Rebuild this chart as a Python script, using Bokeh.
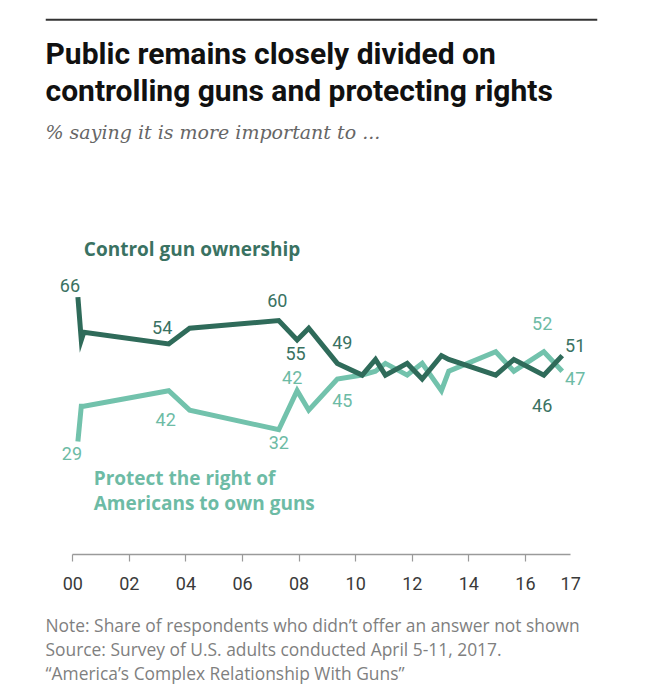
from bokeh.plotting import figure
from bokeh.models import ColumnDataSource, Range1d, FixedTicker, Label, Span, Title
from bokeh.core.properties import value
from bokeh.embed import file_html
from bokeh.resources import INLINE

# survey dates, as years after 2000
years = [0.18, 0.30, 0.39, 3.39, 4.13, 7.28, 7.93, 8.34, 9.35, 10.23,
         10.70, 11.05, 11.82, 12.35, 13.03, 13.29, 14.95, 15.59, 16.65, 17.30]
# % saying it is more important to ...
control = [66, 55, 57, 54, 58, 60, 55, 58, 49, 46,
           50, 46, 49, 45, 51, 50, 46, 50, 46, 51]
protect = [29, 38, 38, 42, 37, 32, 42, 37, 45, 46,
           47, 49, 46, 49, 42, 47, 52, 47, 52, 47]

tick_years = [0, 2, 4, 6, 8, 10, 12, 14, 16]
tick_labels = ["00", "02", "04", "06", "08", "10", "12", "14", "16"]
end_label = "17"
axis_end = 17.6

# which points carry a value label
control_marked = [0, 3, 5, 6, 8, 19, 18]
protect_marked = [0, 3, 5, 6, 8, 18, 19]

title_lines = ["Public remains closely divided on",
               "controlling guns and protecting rights"]
subtitle = "% saying it is more important to ..."
control_name = "Control gun ownership"
protect_name = ["Protect the right of", "Americans to own guns"]
notes = ["Note: Share of respondents who didn\u2019t offer an answer not shown",
         "Source: Survey of U.S. adults conducted April 5-11, 2017.",
         "\u201cAmerica\u2019s Complex Relationship With Guns\u201d"]

DARK = "#2f6b5a"
DARK_TXT = "#3a7262"
LIGHT = "#72c2ac"
LIGHT_TXT = "#6dbba5"
NUM_FONT = "Roboto"
NAME_FONT = "Open Sans"

p = figure(width=654, height=686, output_backend="svg", toolbar_location=None,
           x_range=Range1d(-0.965, 18.547), y_range=Range1d(0, 138.97),
           y_axis_location=None,
           min_border_left=45, min_border_right=57,
           min_border_top=12, min_border_bottom=132)
p.grid.visible = False
p.outline_line_color = None
p.background_fill_color = "white"

# x axis, only as long as the data; minor ticks give the marks,
# major ticks (zero length) carry the labels, "17" at the axis end
ax = p.xaxis[0]
ax.ticker = FixedTicker(ticks=tick_years + [axis_end], minor_ticks=tick_years)
overrides = {t: l for t, l in zip(tick_years, tick_labels)}
overrides[axis_end] = end_label
ax.major_label_overrides = overrides
ax.bounds = (0, axis_end)
ax.axis_line_color = "#9a9a9a"
ax.axis_line_width = 1.5
ax.major_tick_in = 0
ax.major_tick_out = 0
ax.minor_tick_line_color = "#9a9a9a"
ax.minor_tick_line_width = 1.2
ax.minor_tick_in = 0
ax.minor_tick_out = 7
ax.major_label_text_font = NUM_FONT
ax.major_label_text_font_size = "18px"
ax.major_label_text_color = "#3a3a3a"
ax.major_label_standoff = 15

# the lines
src = ColumnDataSource(data=dict(x=years, control=control, protect=protect))
p.line("x", "protect", source=src, line_color=LIGHT, line_width=5,
       line_join="miter")
p.line("x", "control", source=src, line_color=DARK, line_width=5,
       line_join="miter")

# value labels, offsets in pixels from the point
c_dx = [-8, -6.5, -1.5, -1.6, 5, 13, -1.6]
c_dy = [-11.6, -16.7, -20, 14, -21, -10, 30]
p_dx = [-6, -3, 0, -5, 5, -1.6, 13]
p_dy = [12, 29, 12.5, -13.5, 21.5, -28, 7.6]

csrc = ColumnDataSource(data=dict(
    x=[years[i] for i in control_marked],
    y=[control[i] for i in control_marked],
    t=[str(control[i]) for i in control_marked],
    dx=c_dx, dy=c_dy))
psrc = ColumnDataSource(data=dict(
    x=[years[i] for i in protect_marked],
    y=[protect[i] for i in protect_marked],
    t=[str(protect[i]) for i in protect_marked],
    dx=p_dx, dy=p_dy))
p.text("x", "y", text="t", x_offset="dx", y_offset="dy", source=csrc,
       text_align="center", text_baseline="middle", text_font=value(NUM_FONT),
       text_font_size="18px", text_color=DARK_TXT)
p.text("x", "y", text="t", x_offset="dx", y_offset="dy", source=psrc,
       text_align="center", text_baseline="middle", text_font=value(NUM_FONT),
       text_font_size="18px", text_color=LIGHT_TXT)

# series names
p.text(x=[0.39], y=[78.3], text=[control_name], text_font=value(NAME_FONT),
       text_font_style="bold", text_font_size="19px", text_color=DARK_TXT,
       text_baseline="middle")
p.text(x=[0.74, 0.74], y=[19.6, 13.2], text=protect_name,
       text_font=value(NAME_FONT), text_font_style="bold",
       text_font_size="19px", text_color=LIGHT_TXT, text_baseline="middle")

# header: rule, title, subtitle
p.add_layout(Span(location=137.1, dimension="width", line_color="#333333",
                  line_width=2))
for txt, ys in zip(title_lines, [500.9, 464.2]):
    p.add_layout(Label(x=0, y=ys, x_units="screen", y_units="screen",
                       text=txt, text_font="Roboto",
                       text_font_style="bold", text_font_size="30px",
                       text_color="#111111", text_baseline="middle"))
p.add_layout(Label(x=0, y=422.6, x_units="screen", y_units="screen",
                   text=subtitle, text_font="DejaVu Serif",
                   text_font_style="italic", text_font_size="19px",
                   text_color="#666666", text_baseline="middle"))

# notes under the axis (a thin spacer first)
p.add_layout(Title(text=" ", text_font_size="1px", standoff=16), "below")
for txt in notes:
    p.add_layout(Title(text=txt, align="left", text_font="Open Sans",
                       text_font_size="17.4px", text_font_style="normal",
                       text_color="#7f7f7f", standoff=-2), "below")

open("out.html", "w").write(file_html(p, INLINE))
